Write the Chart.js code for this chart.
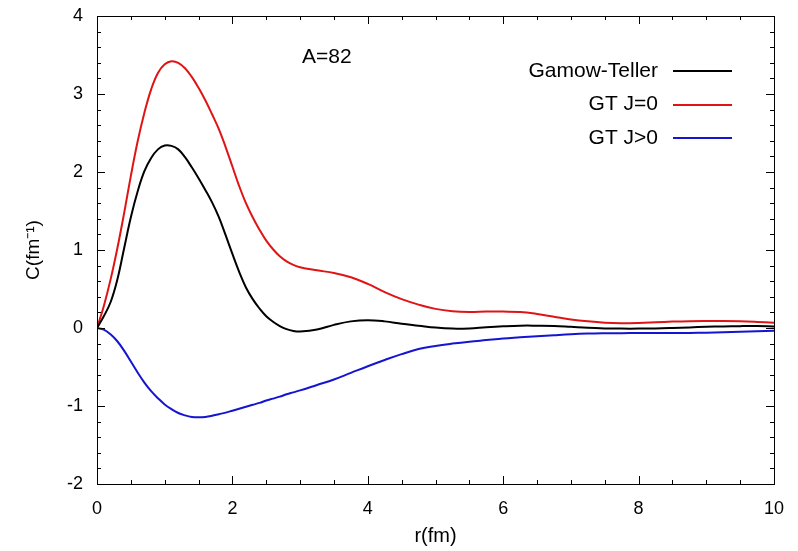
<!DOCTYPE html>
<html><head><meta charset="utf-8">
<script src="https://cdn.jsdelivr.net/npm/chart.js@4/dist/chart.umd.min.js"></script>
<style>html,body{margin:0;padding:0;background:#fff}#wrap{width:798px;height:551px;position:relative}</style>
</head><body><div id="wrap"><canvas id="c"></canvas></div>
<script>
// ---- data ----
const rValues = [0,0.1,0.2,0.3,0.4,0.5,0.6,0.7,0.8,0.9,1.0,1.1,1.2,1.3,1.4,1.5,1.6,1.7,1.8,1.9,2.0,2.1,2.2,2.3,2.4,2.5,2.6,2.7,2.8,2.9,3.0,
  3.25,3.5,3.75,4.0,4.25,4.5,4.75,5.0,5.25,5.5,5.75,6.0,6.25,6.5,6.75,7.0,7.25,7.5,7.75,8.0,8.25,8.5,8.75,9.0,9.25,9.5,9.75,10];
const gamowTeller = [0,0.15,0.33,0.62,1.02,1.42,1.75,2.01,2.18,2.29,2.34,2.335,2.29,2.19,2.06,1.92,1.77,1.61,1.42,1.19,0.95,0.72,0.52,0.37,0.25,0.15,0.08,0.025,-0.015,-0.038,-0.045,
  -0.02,0.04,0.085,0.10,0.085,0.055,0.03,0.005,-0.008,-0.005,0.01,0.022,0.03,0.03,0.027,0.015,0.002,-0.005,-0.008,-0.008,-0.006,0.0,0.008,0.015,0.02,0.024,0.025,0.02];
const gtJ0 = [0,0.28,0.62,1.02,1.47,1.95,2.39,2.76,3.06,3.27,3.38,3.42,3.40,3.33,3.22,3.08,2.92,2.74,2.55,2.32,2.07,1.82,1.60,1.42,1.26,1.12,1.01,0.92,0.855,0.81,0.78,
  0.74,0.705,0.65,0.565,0.46,0.37,0.30,0.245,0.215,0.205,0.21,0.21,0.205,0.18,0.145,0.11,0.085,0.068,0.062,0.065,0.073,0.082,0.088,0.09,0.09,0.086,0.078,0.068];
const gtJgt0 = [0,-0.02,-0.08,-0.17,-0.29,-0.43,-0.57,-0.70,-0.81,-0.90,-0.98,-1.04,-1.09,-1.12,-1.14,-1.145,-1.14,-1.125,-1.105,-1.085,-1.06,-1.035,-1.01,-0.985,-0.96,-0.93,-0.905,-0.88,-0.85,-0.825,-0.80,
  -0.73,-0.66,-0.575,-0.49,-0.41,-0.335,-0.27,-0.23,-0.20,-0.175,-0.155,-0.135,-0.12,-0.105,-0.092,-0.08,-0.072,-0.068,-0.066,-0.065,-0.065,-0.065,-0.063,-0.06,-0.055,-0.048,-0.041,-0.035];
const seriesLabels = ['Gamow-Teller','GT J=0','GT J>0'];
const xTickValues = [0,2,4,6,8,10];
const yTickValues = [-2,-1,0,1,2,3,4];
const xAxisTitle = 'r(fm)';
const yAxisTitle = 'C(fm\u207B\u00B9)';
const annotationText = 'A=82';

// ---- styles ----
const FONT = '"Liberation Sans", Arial, Helvetica, sans-serif';
const colors = ['#000000', '#e01414', '#1414d2'];

const toPts = ys => rValues.map((r, i) => ({x: r, y: ys[i]}));
const seriesValues = [gamowTeller, gtJ0, gtJgt0];

const frameTicks = {
  id: 'frameTicks',
  afterDatasetsDraw(chart) {
    const {ctx, chartArea: a, scales: {x, y}} = chart;
    ctx.save();
    ctx.strokeStyle = '#000';
    ctx.lineWidth = 1;
    ctx.beginPath();
    for (let k = 0; k <= 20; k++) {
      const v = k * 0.5;
      const px = Math.round(x.getPixelForValue(v)) + 0.5;
      const L = (k % 4 === 0) ? 8 : 4;
      ctx.moveTo(px, a.bottom); ctx.lineTo(px, a.bottom - L);
      ctx.moveTo(px, a.top); ctx.lineTo(px, a.top + L);
    }
    for (let k = 0; k <= 30; k++) {
      const v = -2 + k * 0.2;
      const py = Math.round(y.getPixelForValue(v)) + 0.5;
      const L = (k % 5 === 0) ? 8 : 4;
      ctx.moveTo(a.left, py); ctx.lineTo(a.left + L, py);
      ctx.moveTo(a.right, py); ctx.lineTo(a.right - L, py);
    }
    ctx.stroke();
    ctx.strokeRect(Math.round(a.left) + 0.5, Math.round(a.top) + 0.5, Math.round(a.right - a.left), Math.round(a.bottom - a.top));
    ctx.restore();
  },
  afterDraw(chart) {
    const {ctx, chartArea: a} = chart;
    ctx.save();
    ctx.font = '21px ' + FONT;
    ctx.fillStyle = '#000';
    ctx.textBaseline = 'middle';
    // annotation
    ctx.textAlign = 'left';
    ctx.fillText(annotationText, a.left + 205, a.top + 41);
    // legend
    ctx.textAlign = 'right';
    chart.data.datasets.forEach((ds, i) => {
      const yy = a.top + 55 + i * 33.5;
      ctx.fillStyle = '#000';
      ctx.fillText(ds.label, a.right - 116, yy);
      ctx.strokeStyle = ds.borderColor;
      ctx.lineWidth = 2;
      ctx.beginPath();
      ctx.moveTo(a.right - 101, Math.round(yy)); ctx.lineTo(a.right - 42, Math.round(yy));
      ctx.stroke();
    });
    ctx.restore();
  }
};

new Chart(document.getElementById('c'), {
  type: 'line',
  data: {
    datasets: seriesLabels.map((lab, i) => ({
      label: lab,
      data: toPts(seriesValues[i]),
      borderColor: colors[i],
      backgroundColor: colors[i],
      borderWidth: 2,
      pointRadius: 0,
      fill: false,
      tension: 0.4
    }))
  },
  options: {
    responsive: true,
    maintainAspectRatio: false,
    animation: false,
    layout: {padding: {top: 16, right: 24, left: 0, bottom: 0}},
    plugins: {legend: {display: false}, tooltip: {enabled: false}},
    scales: {
      x: {
        type: 'linear', min: 0, max: 10,
        afterBuildTicks: s => { s.ticks = xTickValues.map(v => ({value: v})); },
        afterFit: s => { s.height = 67; s.paddingLeft = 0; s.paddingRight = 0; },
        grid: {display: false, drawTicks: false},
        border: {display: false},
        ticks: {color: '#000', font: {family: FONT, size: 18}, padding: 14, maxRotation: 0},
        title: {display: true, text: xAxisTitle, color: '#000', font: {family: FONT, size: 20}, padding: {top: 0, bottom: 3}}
      },
      y: {
        type: 'linear', min: -2, max: 4,
        afterBuildTicks: s => { s.ticks = yTickValues.map(v => ({value: v})); },
        afterFit: s => { s.width = 97; s.paddingTop = 0; s.paddingBottom = 0; },
        grid: {display: false, drawTicks: false},
        border: {display: false},
        ticks: {color: '#000', font: {family: FONT, size: 18}, padding: 14},
        title: {display: true, text: yAxisTitle, color: '#000', font: {family: FONT, size: 19}, padding: {top: 22, bottom: 0}}
      }
    }
  },
  plugins: [frameTicks]
});
</script>
</body></html>
